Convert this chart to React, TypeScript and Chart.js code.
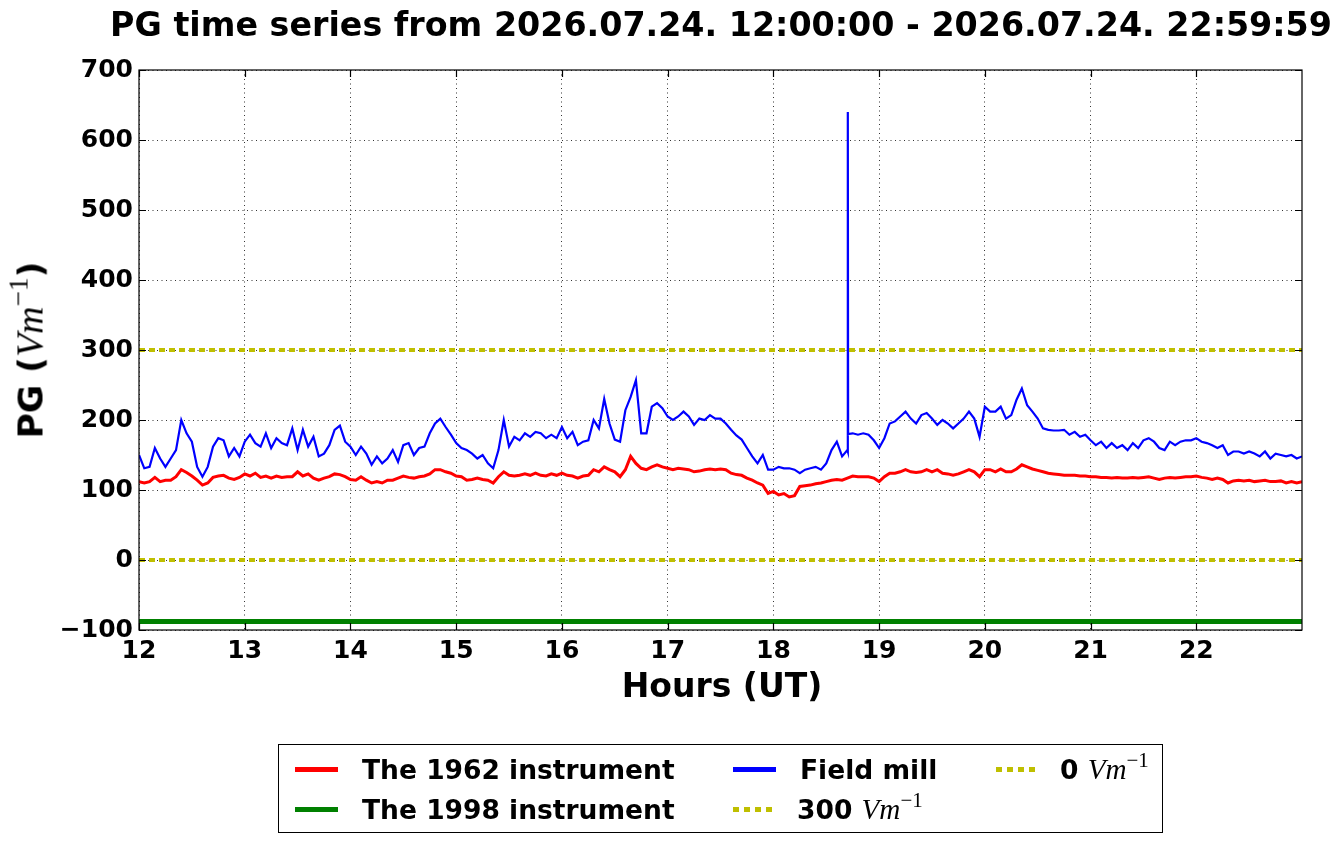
import { useEffect, useRef } from "react";
import { Chart, registerables } from "chart.js";

Chart.register(...registerables);

// sampling grid of the two noisy series: one value every 3 minutes from 12:00
const startHour = 12;
const stepHours = 0.05;

// The 1962 instrument (V/m)
const instrument1962 = [
  112, 110, 112, 118, 112, 114, 114, 119, 129, 125, 120, 114, 107, 110, 118, 120, 121, 117, 115, 118,
  123, 120, 124, 118, 120, 117, 120, 118, 119, 119, 126, 120, 123, 117, 114, 117, 119, 123, 122, 119,
  115, 114, 119, 114, 110, 112, 110, 114, 114, 117, 120, 118, 117, 119, 120, 123, 129, 129, 126, 124,
  120, 119, 114, 115, 117, 115, 114, 110, 119, 126, 121, 120, 121, 123, 121, 124, 121, 120, 123, 121,
  124, 121, 120, 117, 120, 121, 129, 126, 133, 129, 126, 119, 129, 148, 138, 131, 129, 133, 136, 133,
  131, 129, 131, 130, 129, 126, 127, 129, 130, 129, 130, 129, 124, 122, 121, 117, 114, 110, 107, 95,
  98, 93, 95, 90, 92, 105, 106, 107, 109, 110, 112, 114, 115, 114, 117, 120, 119, 119, 119, 117,
  112, 119, 124, 124, 126, 129, 126, 125, 126, 129, 126, 129, 124, 123, 121, 123, 126, 129, 126, 119,
  129, 129, 126, 130, 126, 126, 130, 136, 133, 130, 128, 126, 124, 123, 122, 121, 121, 121, 120, 120,
  119, 119, 118, 118, 117, 118, 117, 117, 118, 117, 118, 119, 117, 115, 117, 118, 117, 118, 119, 119,
  120, 118, 117, 115, 117, 115, 110, 113, 114, 113, 114, 112, 113, 114, 112, 112, 113, 110, 112, 110,
  112,
];

// Field mill (V/m)
const fieldMill = [
  150, 131, 133, 160, 145, 133, 145, 157, 200, 181, 169, 133, 119, 133, 162, 174, 171, 148, 160, 148,
  169, 179, 167, 162, 181, 160, 174, 167, 164, 188, 157, 186, 162, 176, 148, 152, 164, 186, 192, 169,
  162, 150, 162, 152, 136, 148, 138, 145, 157, 140, 164, 167, 150, 160, 162, 181, 195, 202, 190, 179,
  167, 160, 157, 152, 145, 150, 138, 131, 157, 200, 162, 176, 171, 181, 176, 183, 181, 174, 179, 174,
  190, 174, 183, 164, 169, 171, 200, 188, 230, 195, 172, 169, 214, 233, 257, 181, 181, 219, 224, 217,
  205, 200, 205, 212, 205, 193, 202, 200, 207, 202, 202, 195, 186, 178, 172, 160, 148, 138, 150, 129,
  129, 133, 131, 131, 129, 124, 129, 131, 133, 129, 138, 157, 169, 148, 157, 181, 179, 181, 179, 171,
  160, 174, 195, 198, 205, 212, 202, 195, 207, 210, 202, 193, 200, 195, 188, 195, 202, 212, 202, 176,
  219, 212, 212, 219, 202, 207, 229, 245, 221, 212, 202, 188, 186, 185, 185, 186, 179, 183, 176, 179,
  171, 164, 169, 160, 167, 160, 164, 157, 167, 160, 171, 174, 169, 160, 157, 169, 164, 169, 171, 171,
  174, 169, 167, 164, 160, 164, 150, 155, 155, 152, 155, 152, 148, 155, 145, 152, 150, 148, 150, 145,
  148,
];

// the single-sample spike of the field mill near 18:42
const spikeHours = [18.703, 18.705, 18.707];
const spikeValues = [155, 640, 180];

// constant lines across the whole window
const refHours = [12, 23];
const instrument1998 = [-88, -88];
const level300 = [300, 300];
const level0 = [0, 0];

const xTicks = [12, 13, 14, 15, 16, 17, 18, 19, 20, 21, 22];
const yTicks = [-100, 0, 100, 200, 300, 400, 500, 600, 700];

const RED = "#ff0000";
const GREEN = "#008000";
const BLUE = "#0000ff";
const OLIVE = "#bfbf00";
const SANS = "'DejaVu Sans', sans-serif";
const MATH = "'Liberation Serif', serif";

const toPoints = (values: number[]) =>
  values.map((v, i) => ({ x: startHour + i * stepHours, y: v }));

const pairPoints = (hours: number[], values: number[]) =>
  hours.map((h, i) => ({ x: h, y: values[i] }));

// box round the plot and inward ticks on all four sides
const framePlugin = {
  id: "frame",
  afterDraw(chart: any) {
    const { ctx, chartArea: a, scales } = chart;
    ctx.save();
    ctx.strokeStyle = "#000";
    ctx.lineWidth = 1.2;
    ctx.strokeRect(a.left, a.top, a.right - a.left, a.bottom - a.top);
    ctx.beginPath();
    xTicks.forEach((t) => {
      const px = Math.round(scales.x.getPixelForValue(t)) + 0.5;
      ctx.moveTo(px, a.bottom);
      ctx.lineTo(px, a.bottom - 7);
      ctx.moveTo(px, a.top);
      ctx.lineTo(px, a.top + 7);
    });
    yTicks.forEach((t) => {
      const py = Math.round(scales.y.getPixelForValue(t)) + 0.5;
      ctx.moveTo(a.left, py);
      ctx.lineTo(a.left + 7, py);
      ctx.moveTo(a.right, py);
      ctx.lineTo(a.right - 7, py);
    });
    ctx.stroke();
    ctx.restore();
  },
};

function Vm() {
  return (
    <span style={{ fontFamily: MATH, fontStyle: "italic", fontWeight: "normal", fontSize: "1.1em" }}>
      Vm
      <sup style={{ fontStyle: "normal", fontSize: "0.72em", verticalAlign: "0.55em", lineHeight: 0 }}>
        −1
      </sup>
    </span>
  );
}

function LegendItem(props: { left: number; top: number; color: string; dotted?: boolean; children: any }) {
  const handle = props.dotted
    ? {
        width: 40,
        height: 5,
        background: `repeating-linear-gradient(90deg, ${OLIVE} 0 6px, transparent 6px 11px)`,
      }
    : { width: 43, height: 5, background: props.color };
  return (
    <div
      style={{
        position: "absolute",
        left: props.left,
        top: props.top - 16,
        height: 32,
        display: "flex",
        alignItems: "center",
        whiteSpace: "nowrap",
      }}
    >
      <div style={handle} />
      <div style={{ marginLeft: 24, fontFamily: SANS, fontWeight: "bold", fontSize: 26.5 }}>{props.children}</div>
    </div>
  );
}

export default function App() {
  const canvasRef = useRef<HTMLCanvasElement>(null);

  useEffect(() => {
    const canvas = canvasRef.current;
    if (!canvas) return;

    const fieldMillPoints = [...toPoints(fieldMill), ...pairPoints(spikeHours, spikeValues)].sort(
      (p, q) => p.x - q.x
    );

    const chart = new Chart(canvas, {
      type: "line",
      data: {
        datasets: [
          // listed top-most first: Chart.js paints dataset 0 last
          {
            label: "0 Vm-1",
            data: pairPoints(refHours, level0),
            borderColor: OLIVE,
            borderWidth: 4,
            borderDash: [6, 4],
            pointRadius: 0,
          },
          {
            label: "300 Vm-1",
            data: pairPoints(refHours, level300),
            borderColor: OLIVE,
            borderWidth: 4,
            borderDash: [6, 4],
            pointRadius: 0,
          },
          {
            label: "Field mill",
            data: fieldMillPoints,
            borderColor: BLUE,
            borderWidth: 2.2,
            pointRadius: 0,
          },
          {
            label: "The 1998 instrument",
            data: pairPoints(refHours, instrument1998),
            borderColor: GREEN,
            borderWidth: 5,
            pointRadius: 0,
          },
          {
            label: "The 1962 instrument",
            data: toPoints(instrument1962),
            borderColor: RED,
            borderWidth: 3,
            pointRadius: 0,
          },
        ],
      },
      options: {
        animation: false,
        responsive: true,
        maintainAspectRatio: false,
        layout: { padding: { left: 0, right: 39, top: 70, bottom: 0 } },
        plugins: {
          legend: { display: false },
          title: { display: false },
          tooltip: { enabled: false },
        },
        elements: { line: { tension: 0 } },
        scales: {
          x: {
            type: "linear",
            min: 12,
            max: 22.9997,
            afterBuildTicks: (scale: any) => {
              scale.ticks = xTicks.map((v) => ({ value: v }));
            },
            afterFit: (scale: any) => {
              scale.height = 214;
            },
            grid: { color: "#000", lineWidth: 0.8, drawTicks: false },
            border: { display: false, dash: [1, 3.5] },
            ticks: {
              color: "#000",
              padding: 6,
              maxRotation: 0,
              autoSkip: false,
              font: { family: SANS, weight: "bold", size: 25 },
              callback: (v: any) => String(v),
            },
          },
          y: {
            type: "linear",
            min: -100,
            max: 700,
            afterBuildTicks: (scale: any) => {
              scale.ticks = yTicks.map((v) => ({ value: v }));
            },
            afterFit: (scale: any) => {
              scale.width = 139;
            },
            grid: { color: "#000", lineWidth: 0.8, drawTicks: false },
            border: { display: false, dash: [1, 3.5] },
            ticks: {
              color: "#000",
              padding: 6,
              autoSkip: false,
              font: { family: SANS, weight: "bold", size: 25 },
              callback: (v: any) => (Number(v) < 0 ? "−" + Math.abs(Number(v)) : String(v)),
            },
          },
        },
      },
      plugins: [framePlugin],
    } as any);

    return () => chart.destroy();
  }, []);

  return (
    <div
      style={{
        position: "fixed",
        left: 0,
        top: 0,
        width: 1341,
        height: 844,
        background: "#fff",
        color: "#000",
        overflow: "hidden",
      }}
    >
      <canvas ref={canvasRef} />

      <div
        style={{
          position: "absolute",
          left: 721,
          top: 7,
          transform: "translateX(-50%)",
          whiteSpace: "nowrap",
          fontFamily: SANS,
          fontWeight: "bold",
          fontSize: 33.3,
          lineHeight: "36px",
        }}
      >
        PG time series from 2026.07.24. 12:00:00 - 2026.07.24. 22:59:59
      </div>

      <div
        style={{
          position: "absolute",
          left: 30,
          top: 350,
          transform: "translate(-50%, -50%) rotate(-90deg)",
          whiteSpace: "nowrap",
          fontFamily: SANS,
          fontWeight: "bold",
          fontSize: 34.5,
          lineHeight: "40px",
        }}
      >
        PG (<Vm />)
      </div>

      <div
        style={{
          position: "absolute",
          left: 722,
          top: 667,
          transform: "translateX(-50%)",
          whiteSpace: "nowrap",
          fontFamily: SANS,
          fontWeight: "bold",
          fontSize: 33,
          lineHeight: "38px",
        }}
      >
        Hours (UT)
      </div>

      <div
        style={{
          position: "absolute",
          left: 278,
          top: 744,
          width: 883,
          height: 87,
          border: "1px solid #000",
        }}
      >
        <LegendItem left={16} top={24} color={RED}>
          The 1962 instrument
        </LegendItem>
        <LegendItem left={16} top={64} color={GREEN}>
          The 1998 instrument
        </LegendItem>
        <LegendItem left={454} top={24} color={BLUE}>
          Field mill
        </LegendItem>
        <LegendItem left={454} top={64} color={OLIVE} dotted>
          300 <Vm />
        </LegendItem>
        <LegendItem left={717} top={24} color={OLIVE} dotted>
          0 <Vm />
        </LegendItem>
      </div>
    </div>
  );
}
